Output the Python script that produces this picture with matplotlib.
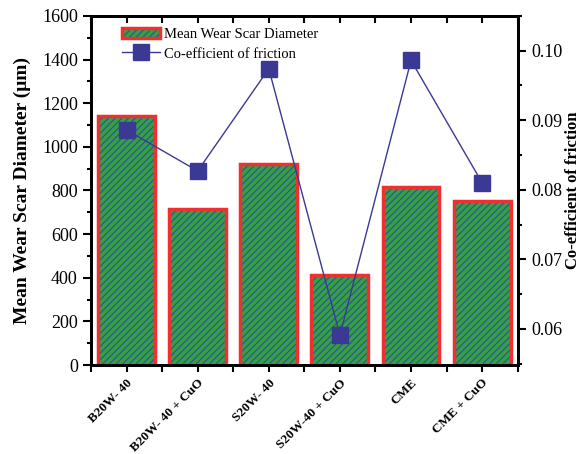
import matplotlib.pyplot as plt
from matplotlib.patches import Patch
from matplotlib.ticker import MultipleLocator

plt.rcParams['font.family'] = ['Liberation Serif', 'DejaVu Serif']
plt.rcParams['hatch.linewidth'] = 0.9

samples = ['B20W- 40', 'B20W- 40 + CuO', 'S20W- 40', 'S20W-40 + CuO', 'CME', 'CME + CuO']
wsd = [1140, 715, 922, 413, 818, 750]
cof = [0.0886, 0.0827, 0.0974, 0.0591, 0.0986, 0.0810]

green = '#34a23f'
stripe = '#30559a'
navy = '#3a3a94'
red = '#f03030'

fig = plt.figure(figsize=(5.87, 4.54), dpi=100)
ax = fig.add_axes([0.155, 0.196, 0.727, 0.769])
x = range(len(samples))

ax.bar(x, wsd, width=0.8, color=green, edgecolor=stripe, hatch='/////', linewidth=0)
ax.bar(x, wsd, width=0.8, fill=False, edgecolor=red, linewidth=2.5)

ax.set_xlim(-0.47, 5.49)
ax.set_ylim(0, 1600)
ax.yaxis.set_major_locator(MultipleLocator(200))
ax.yaxis.set_minor_locator(MultipleLocator(100))
ax.set_xticks(list(x))
ax.set_xticks([i + 0.5 for i in range(-1, 6)], minor=True)
ax.set_xticklabels(samples, rotation=45, ha='right', rotation_mode='anchor',
                   fontsize=9.5, fontweight='bold')
ax.tick_params(axis='x', which='both', direction='out', length=5, width=1.5)
ax.tick_params(axis='y', which='major', direction='out', length=6, width=1.5, labelsize=13)
ax.tick_params(axis='y', which='minor', direction='out', length=3, width=1.5)
ax.set_ylabel('Mean Wear Scar Diameter (\u03bcm)', fontsize=14, fontweight='bold', labelpad=8)
for s in ax.spines.values():
    s.set_linewidth(2)

top = ax.secondary_xaxis('top')
top.set_xticks(list(x))
top.set_xticks([i + 0.5 for i in range(-1, 6)], minor=True)
top.set_xticklabels([])
top.tick_params(which='both', direction='in', length=5, width=1.5)
top.spines['top'].set_linewidth(2)

ax2 = ax.twinx()
ax2.plot(x, cof, color=navy, linewidth=1, marker='s', markersize=11,
         markerfacecolor=navy, markeredgecolor=navy)
ax2.set_ylim(0.0548, 0.1050)
ax2.yaxis.set_minor_locator(MultipleLocator(0.005))
ax2.set_yticks([0.06, 0.07, 0.08, 0.09, 0.10])
ax2.set_yticklabels(['0.06', '0.07', '0.08', '0.09', '0.10'])
ax2.tick_params(axis='y', which='major', direction='out', length=6, width=1.5, labelsize=13)
ax2.tick_params(axis='y', which='minor', direction='out', length=3, width=1.5)
ax2.set_ylabel('Co-efficient of friction', fontsize=12, fontweight='bold', labelpad=2)
for s in ax2.spines.values():
    s.set_linewidth(2)

bar_handle = (Patch(facecolor=green, edgecolor=stripe, hatch='/////', linewidth=0),
              Patch(fill=False, edgecolor=red, linewidth=2.5))
line_handle = plt.Line2D([], [], color=navy, linewidth=1, marker='s', markersize=11)
ax2.legend([bar_handle, line_handle], ['Mean Wear Scar Diameter', 'Co-efficient of friction'],
           loc='upper left', bbox_to_anchor=(0.045, 1.0), frameon=False, fontsize=10.5,
           handlelength=2.6, handletextpad=0.3, borderaxespad=0.4, labelspacing=0.45)

fig.savefig('out.png', dpi=100)
